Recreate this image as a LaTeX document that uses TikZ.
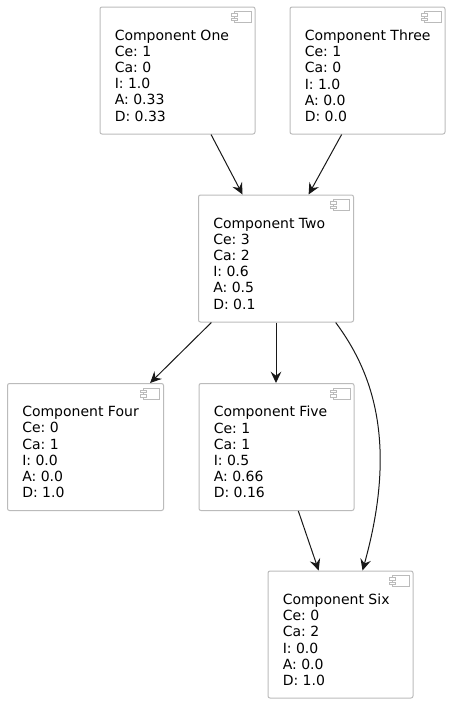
\documentclass[tikz,border=0pt]{standalone}
\usepackage{fontspec}
\setmainfont{DejaVu Sans}
\usetikzlibrary{arrows.meta}
\definecolor{boxgray}{HTML}{BBBBBB}
\definecolor{linedark}{HTML}{181818}
\tikzset{
  compbox/.style={draw=boxgray,line width=0.75pt,rounded corners=1.5pt,minimum height=95.25pt,inner sep=0pt},
  comptext/.style={anchor=north west,align=left,inner sep=0pt,text=black,font=\fontsize{10.5}{12.15}\selectfont\frenchspacing},
  depline/.style={draw=linedark,line width=0.75pt,-{Stealth[length=8.5pt,width=8pt,inset=3pt]}}
}
\newcommand{\compicon}[1]{%
  \draw[draw=boxgray,line width=0.6pt,fill=white] ([shift={(-21,5)}]#1.north east) rectangle ([shift={(-4.5,16)}]#1.north east);
  \draw[draw=boxgray,line width=0.6pt,fill=white] ([shift={(-24,7)}]#1.north east) rectangle ([shift={(-18,9.5)}]#1.north east);
  \draw[draw=boxgray,line width=0.6pt,fill=white] ([shift={(-24,11.5)}]#1.north east) rectangle ([shift={(-18,14)}]#1.north east);
}
\begin{document}
\begin{tikzpicture}[x=0.75pt,y=-0.75pt]
    \useasboundingbox (0,0) rectangle (462,703);
    % boxes, pixel positions of the centres
    \node[compbox,minimum width=116.25pt] (one) at (177.5,70.5) {};
    \node[compbox,minimum width=116.25pt] (three) at (367.5,70.5) {};
    \node[compbox,minimum width=116.25pt] (two) at (276,258.5) {};
    \node[compbox,minimum width=117pt] (four) at (85.5,447) {};
    \node[compbox,minimum width=116.25pt] (five) at (276.5,447) {};
    \node[compbox,minimum width=108.75pt] (six) at (340.5,634.5) {};
    % texts
    \node[comptext] (onetext) at ([shift={(15,23)}]one.north west) {Component One\\Ce: 1\\Ca: 0\\I: 1.0\\A: 0.33\\D: 0.33};
    \node[comptext] (threetext) at ([shift={(15,23)}]three.north west) {Component Three\\Ce: 1\\Ca: 0\\I: 1.0\\A: 0.0\\D: 0.0};
    \node[comptext] (twotext) at ([shift={(15,23)}]two.north west) {Component Two\\Ce: 3\\Ca: 2\\I: 0.6\\A: 0.5\\D: 0.1};
    \node[comptext] (fourtext) at ([shift={(15,23)}]four.north west) {Component Four\\Ce: 0\\Ca: 1\\I: 0.0\\A: 0.0\\D: 1.0};
    \node[comptext] (fivetext) at ([shift={(15,23)}]five.north west) {Component Five\\Ce: 1\\Ca: 1\\I: 0.5\\A: 0.66\\D: 0.16};
    \node[comptext] (sixtext) at ([shift={(15,23)}]six.north west) {Component Six\\Ce: 0\\Ca: 2\\I: 0.0\\A: 0.0\\D: 1.0};
    % icons
    \compicon{one}
    \compicon{three}
    \compicon{two}
    \compicon{four}
    \compicon{five}
    \compicon{six}
    % dependencies
    \draw[depline] (one) -- (two);
    \draw[depline] (three.-112.6) -- (two.63.3);
    \draw[depline] (two) -- (four);
    \draw[depline] (two.south) -- (two.south |- five.north);
    \draw[depline] (five) -- (six);
    \draw[depline] (two.-47) .. controls (371,370) and (399,440) .. (six.71);
\end{tikzpicture}
\end{document}
